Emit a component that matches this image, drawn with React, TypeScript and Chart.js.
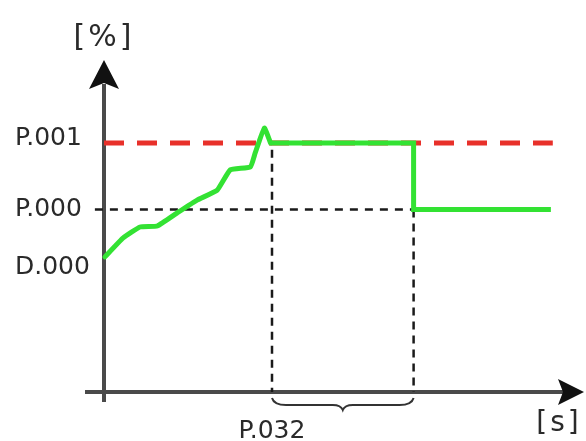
import React, { useEffect, useRef } from "react";
import { Chart, registerables } from "chart.js";

Chart.register(...registerables);

// Tick labels (schematic levels)
const yTickValues = [37.5, 55, 76.5];
const yTickLabels = ["D.000", "P.000", "P.001"];
const xTickValues = [35];
const xTickLabels = ["P.032"];

// Measured signal (green): rising part, then the held/step part
const riseX = [0.2, 4.0, 7.5, 11.1, 15.2, 19.4, 23.6, 26.3, 30.5, 31.5, 33.4, 34.7];
const riseY = [40.7, 46.4, 49.7, 50.0, 53.9, 57.8, 60.8, 66.9, 67.8, 72.0, 79.5, 75];
const holdX = [34.7, 64.5, 64.5, 93.1];
const holdY = [75, 75, 55, 55];

// Limit line (red dashed)
const limitX = [0, 93.5];
const limitY = [75, 75];

// Reference line (black dashed)
const refX = [-1.9, 64.5];
const refY = [55, 55];

// Vertical markers
const mark1X = [35, 35];
const mark1Y = [73, 0];
const mark2X = [64.5, 64.5];
const mark2Y = [55, 0];

const yTitle = "[%]";
const xTitle = "[s]";

const pts = (xs: number[], ys: number[]) => xs.map((x, i) => ({ x, y: ys[i] }));

const FONT = "'DejaVu Sans', Verdana, sans-serif";
const GREEN = "#33e233";

const decor = {
  id: "decor",
  beforeDatasetsDraw(chart: any) {
    const { ctx, chartArea, scales } = chart;
    const x = scales.x;
    const y = scales.y;
    const ox = x.getPixelForValue(0);
    const oy = y.getPixelForValue(0);
    const top = chartArea.top;
    const right = chartArea.right;
    ctx.save();
    ctx.strokeStyle = "#4a4a4a";
    ctx.lineWidth = 4;
    ctx.beginPath();
    ctx.moveTo(ox, oy + 10);
    ctx.lineTo(ox, top + 24);
    ctx.stroke();
    ctx.beginPath();
    ctx.moveTo(ox - 19, oy);
    ctx.lineTo(right - 20, oy);
    ctx.stroke();
    // arrow heads
    ctx.fillStyle = "#111";
    ctx.beginPath();
    ctx.moveTo(ox, top);
    ctx.lineTo(ox + 15, top + 29);
    ctx.lineTo(ox, top + 23);
    ctx.lineTo(ox - 15, top + 29);
    ctx.closePath();
    ctx.fill();
    ctx.beginPath();
    ctx.moveTo(right, oy);
    ctx.lineTo(right - 26, oy + 13);
    ctx.lineTo(right - 21, oy);
    ctx.lineTo(right - 26, oy - 13);
    ctx.closePath();
    ctx.fill();
    ctx.restore();
  },
  afterDraw(chart: any) {
    const { ctx, chartArea, scales } = chart;
    const x = scales.x;
    const y = scales.y;
    const ox = x.getPixelForValue(0);
    const oy = y.getPixelForValue(0);
    ctx.save();
    // brace between the markers
    const a = x.getPixelForValue(mark1X[0]);
    const b = x.getPixelForValue(mark2X[0]);
    const m = (a + b) / 2;
    const y0 = oy + 6;
    const y1 = oy + 13;
    const y2 = oy + 18;
    ctx.strokeStyle = "#333";
    ctx.lineWidth = 2;
    ctx.beginPath();
    ctx.moveTo(a, y0);
    ctx.quadraticCurveTo(a + 2, y1, a + 14, y1);
    ctx.lineTo(m - 10, y1);
    ctx.quadraticCurveTo(m - 2, y1, m, y2);
    ctx.quadraticCurveTo(m + 2, y1, m + 10, y1);
    ctx.lineTo(b - 14, y1);
    ctx.quadraticCurveTo(b - 2, y1, b, y0);
    ctx.stroke();
    // axis titles
    ctx.fillStyle = "#2a2a2a";
    ctx.textAlign = "center";
    ctx.textBaseline = "middle";
    ctx.font = `30px ${FONT}`;
    (ctx as any).letterSpacing = "3px";
    ctx.fillText(yTitle, ox, chartArea.top - 22);
    ctx.font = `28px ${FONT}`;
    ctx.fillText(xTitle, chartArea.right - 25, oy + 32);
    ctx.restore();
  },
};

const dashed = (xs: number[], ys: number[], dash: number[]) => ({
  data: pts(xs, ys),
  borderColor: "#1a1a1a",
  borderWidth: 2.5,
  borderDash: dash,
  pointRadius: 0,
  clip: false as any,
});

export default function App() {
  const ref = useRef<HTMLCanvasElement | null>(null);
  useEffect(() => {
    if (!ref.current) return;
    const chart = new Chart(ref.current, {
      type: "line",
      data: {
        datasets: [
          {
            data: pts(riseX, riseY),
            borderColor: GREEN,
            borderWidth: 5,
            pointRadius: 0,
            tension: 0.12,
            borderJoinStyle: "round",
            borderCapStyle: "round",
            clip: false as any,
          },
          {
            data: pts(holdX, holdY),
            borderColor: GREEN,
            borderWidth: 5,
            pointRadius: 0,
            tension: 0,
            borderJoinStyle: "miter",
            clip: false as any,
          },
          {
            data: pts(limitX, limitY),
            borderColor: "#e8302a",
            borderWidth: 5,
            borderDash: [20, 13],
            pointRadius: 0,
          },
          dashed(refX, refY, [8, 7]),
          dashed(mark1X, mark1Y, [8, 6]),
          dashed(mark2X, mark2Y, [8, 6]),
        ],
      },
      options: {
        animation: false,
        responsive: false,
        events: [],
        layout: { padding: { left: 15, right: 2, top: 60, bottom: 0 } },
        plugins: { legend: { display: false }, tooltip: { enabled: false } },
        scales: {
          x: {
            type: "linear",
            min: 0,
            max: 100,
            border: { display: false },
            grid: { display: false, drawTicks: false },
            afterFit: (s: any) => {
              s.height = 49;
            },
            afterBuildTicks: (s: any) => {
              s.ticks = xTickValues.map((v) => ({ value: v }));
            },
            ticks: {
              autoSkip: false,
              maxRotation: 0,
              padding: 24,
              color: "#2a2a2a",
              font: { family: FONT, size: 25 },
              callback: (_v: any, i: number) => xTickLabels[i],
            },
          },
          y: {
            type: "linear",
            min: 0,
            max: 100,
            border: { display: false },
            grid: { display: false, drawTicks: false },
            afterFit: (s: any) => {
              s.width = 89;
            },
            afterBuildTicks: (s: any) => {
              s.ticks = yTickValues.map((v) => ({ value: v }));
            },
            ticks: {
              autoSkip: false,
              crossAlign: "far",
              color: "#2a2a2a",
              font: { family: FONT, size: 25 },
              callback: (_v: any, i: number) => yTickLabels[i],
            },
          },
        },
      },
      plugins: [decor],
    } as any);
    return () => chart.destroy();
  }, []);
  return (
    <div style={{ position: "fixed", left: 0, top: 0, width: 586, height: 441, background: "#fff" }}>
      <canvas ref={ref} width={586} height={441} style={{ width: 586, height: 441, display: "block" }} />
    </div>
  );
}
